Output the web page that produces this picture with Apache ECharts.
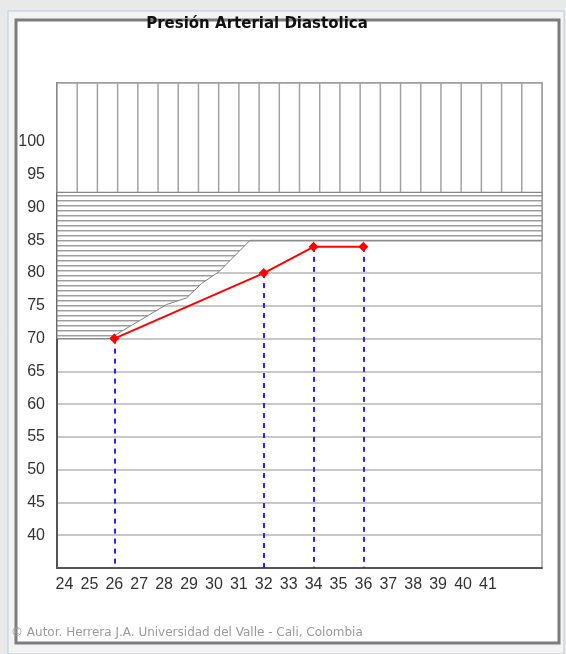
<!DOCTYPE html>
<html>
<head>
<meta charset="utf-8">
<title>Presión Arterial Diastolica</title>
<script src="https://cdn.jsdelivr.net/npm/echarts@6/dist/echarts.min.js"></script>
<style>
  html, body { margin: 0; padding: 0; background: #e9e9e9; }
  #main { width: 566px; height: 654px; }
</style>
</head>
<body>
<div id="main"></div>
<script>
  // semanas de gestacion y presion diastolica (mmHg)
  var weeks = [26, 32, 34, 36];
  var diastolic = [70, 80, 84, 84];

  var weekLabels = [24, 25, 26, 27, 28, 29, 30, 31, 32, 33, 34, 35, 36, 37, 38, 39, 40, 41];
  var pressureLabels = [40, 45, 50, 55, 60, 65, 70, 75, 80, 85, 90, 95, 100];

  // zonas rayadas
  var verticalZoneFloor = 92.3;
  var bandFloor = 85;
  var lowerZoneFloor = 70;
  var edgeWeeks = [25.8, 28.1, 28.9, 29.5, 30.2, 31.45];
  var edgePressure = [70, 75.2, 76.2, 78.4, 80.2, 85];

  var xMin = 23.7, xMax = 43.17, yMin = 35, yMax = 109;

  function stripes() {
    var c = document.createElement('canvas');
    c.width = 8; c.height = 5;
    var g = c.getContext('2d');
    g.fillStyle = '#ffffff';
    g.fillRect(0, 0, 8, 5);
    g.fillStyle = '#9c9c9c';
    g.fillRect(0, 0, 8, 1);
    g.fillStyle = '#cfcfcf';
    g.fillRect(0, 1, 8, 1);
    return c;
  }
  var stripeImg = stripes();

  var chart = echarts.init(document.getElementById('main'));

  var option = {
    animation: false,
    backgroundColor: '#e9e9e9',
    graphic: [
      { type: 'rect', shape: { x: 8, y: 11, width: 556, height: 643 },
        style: { fill: '#f3f3f3', stroke: '#b9cde6', lineWidth: 1 }, z: -10 },
      { type: 'rect', shape: { x: 16, y: 20, width: 543, height: 623 },
        style: { fill: '#ffffff', stroke: '#7c7c7c', lineWidth: 3 }, z: -9 },
      { type: 'text', x: 257, y: 24,
        style: { text: 'Presión Arterial Diastolica', fill: '#111', font: 'bold 15px "DejaVu Sans"',
          textAlign: 'center', textVerticalAlign: 'middle' } },
      { type: 'text', x: 11, y: 633,
        style: { text: '© Autor. Herrera J.A. Universidad del Valle - Cali, Colombia', fill: '#9a9a9a',
          font: '12px "DejaVu Sans"', textVerticalAlign: 'middle' } }
    ],
    grid: {
      left: 57, right: 24, top: 83, bottom: 86,
      show: true, borderColor: '#a0a0a0', borderWidth: 1.5, backgroundColor: '#fff'
    },
    xAxis: {
      type: 'value', min: xMin, max: xMax,
      axisLine: { show: true, lineStyle: { color: '#555', width: 2 } },
      axisTick: { show: false },
      splitLine: { show: false },
      axisLabel: {
        customValues: weekLabels, color: '#333', fontSize: 16, margin: 9,
        fontFamily: 'Liberation Sans'
      }
    },
    yAxis: {
      type: 'value', min: yMin, max: yMax, interval: 5,
      axisLine: { show: true, lineStyle: { color: '#555', width: 2 } },
      axisTick: { show: false },
      splitLine: { show: true, lineStyle: { color: '#b4b4b4', width: 1.5 } },
      axisLabel: {
        customValues: pressureLabels, color: '#333', fontSize: 16, margin: 12,
        fontFamily: 'Liberation Sans'
      }
    },
    series: [
      {
        type: 'custom',
        silent: true,
        z: 1,
        data: [[xMin, yMin]],
        renderItem: function (params, api) {
          var tl = api.coord([xMin, yMax]);
          var br = api.coord([xMax, verticalZoneFloor]);
          var children = [{
            type: 'rect',
            shape: { x: tl[0], y: tl[1], width: br[0] - tl[0], height: br[1] - tl[1] },
            style: { fill: '#fff', stroke: '#9a9a9a', lineWidth: 1.5 }
          }];
          var step = (br[0] - tl[0]) / 24;
          for (var i = 1; i < 24; i++) {
            children.push({
              type: 'line',
              shape: { x1: tl[0] + i * step, y1: tl[1], x2: tl[0] + i * step, y2: br[1] },
              style: { stroke: '#a2a2a2', lineWidth: 1.5 }
            });
          }
          var pts = [[xMin, verticalZoneFloor], [xMax, verticalZoneFloor], [xMax, bandFloor]];
          for (var j = edgeWeeks.length - 1; j >= 0; j--) {
            pts.push([edgeWeeks[j], edgePressure[j]]);
          }
          pts.push([xMin, lowerZoneFloor]);
          children.push({
            type: 'polygon',
            shape: { points: pts.map(function (p) { return api.coord(p); }) },
            style: { fill: { image: stripeImg, repeat: 'repeat' }, stroke: '#808080', lineWidth: 1 }
          });
          return { type: 'group', children: children };
        }
      },
      {
        type: 'line',
        z: 5,
        data: weeks.map(function (w, i) { return [w, diastolic[i]]; }),
        symbol: 'diamond',
        symbolSize: 10,
        itemStyle: { color: '#ff0000' },
        lineStyle: { color: '#ff0000', width: 2 },
        markLine: {
          silent: true,
          symbol: ['none', 'none'],
          label: { show: false },
          lineStyle: { color: '#2424ff', type: [5, 5], width: 2 },
          data: weeks.map(function (w, i) {
            return [{ coord: [w, diastolic[i]] }, { coord: [w, yMin] }];
          })
        }
      }
    ]
  };

  option && chart.setOption(option);
</script>
</body>
</html>
